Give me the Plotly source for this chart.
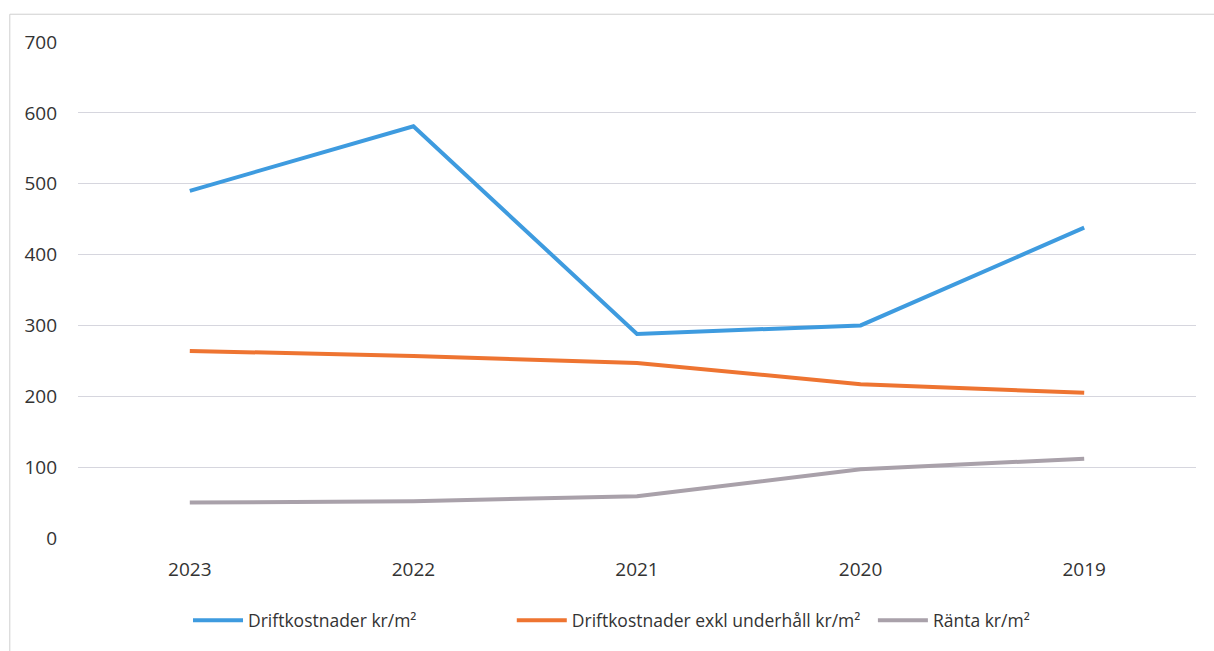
import plotly.graph_objects as go

years = ["2023", "2022", "2021", "2020", "2019"]
drift = [490, 581, 288, 300, 438]
drift_exkl = [264, 257, 247, 217, 205]
ranta = [50, 52, 59, 97, 112]

names = ["Driftkostnader kr/m²", "Driftkostnader exkl underhåll kr/m²", "Ränta kr/m²"]
colors = ["#3E9BDF", "#EE7431", "#A9A1AA"]
legend_ids = ["legend", "legend2", "legend3"]
legend_x = [0.0984, 0.388, 0.711]

FONT = "Open Sans, Lato, sans-serif"
TXT = "#333333"

fig = go.Figure()
for vals, name, col, lid in zip([drift, drift_exkl, ranta], names, colors, legend_ids):
    fig.add_trace(go.Scatter(x=years, y=vals, mode="lines", name=name, legend=lid,
                             line=dict(color=col, width=4)))

leg_common = dict(orientation="h", y=-0.13, yanchor="top", xanchor="left",
                  font=dict(family=FONT, size=17.5, color=TXT), itemwidth=50,
                  bgcolor="rgba(0,0,0,0)")

fig.update_layout(
    width=1214, height=651,
    paper_bgcolor="white", plot_bgcolor="white",
    margin=dict(l=78, r=18, t=42, b=110),
    font=dict(family=FONT, size=19, color=TXT),
    showlegend=True,
    legend=dict(x=legend_x[0], **leg_common),
    legend2=dict(x=legend_x[1], **leg_common),
    legend3=dict(x=legend_x[2], **leg_common),
    xaxis=dict(type="category", range=[-0.5, 4.5], showgrid=False, zeroline=False,
               showline=False, ticks="", tickfont=dict(size=19, color=TXT),
               ticklabelstandoff=18),
    yaxis=dict(range=[0, 700], dtick=100, showgrid=True, gridcolor="#D6D6DE",
               gridwidth=1, zeroline=False, showline=False, ticks="",
               tickfont=dict(size=19, color=TXT), ticklabelstandoff=20),
    shapes=[dict(type="rect", xref="paper", yref="paper",
                 x0=-0.061, x1=1.05, y0=-0.3, y1=1.056,
                 line=dict(color="#CFCFCF", width=1))],
)

fig.write_html("out.html")
